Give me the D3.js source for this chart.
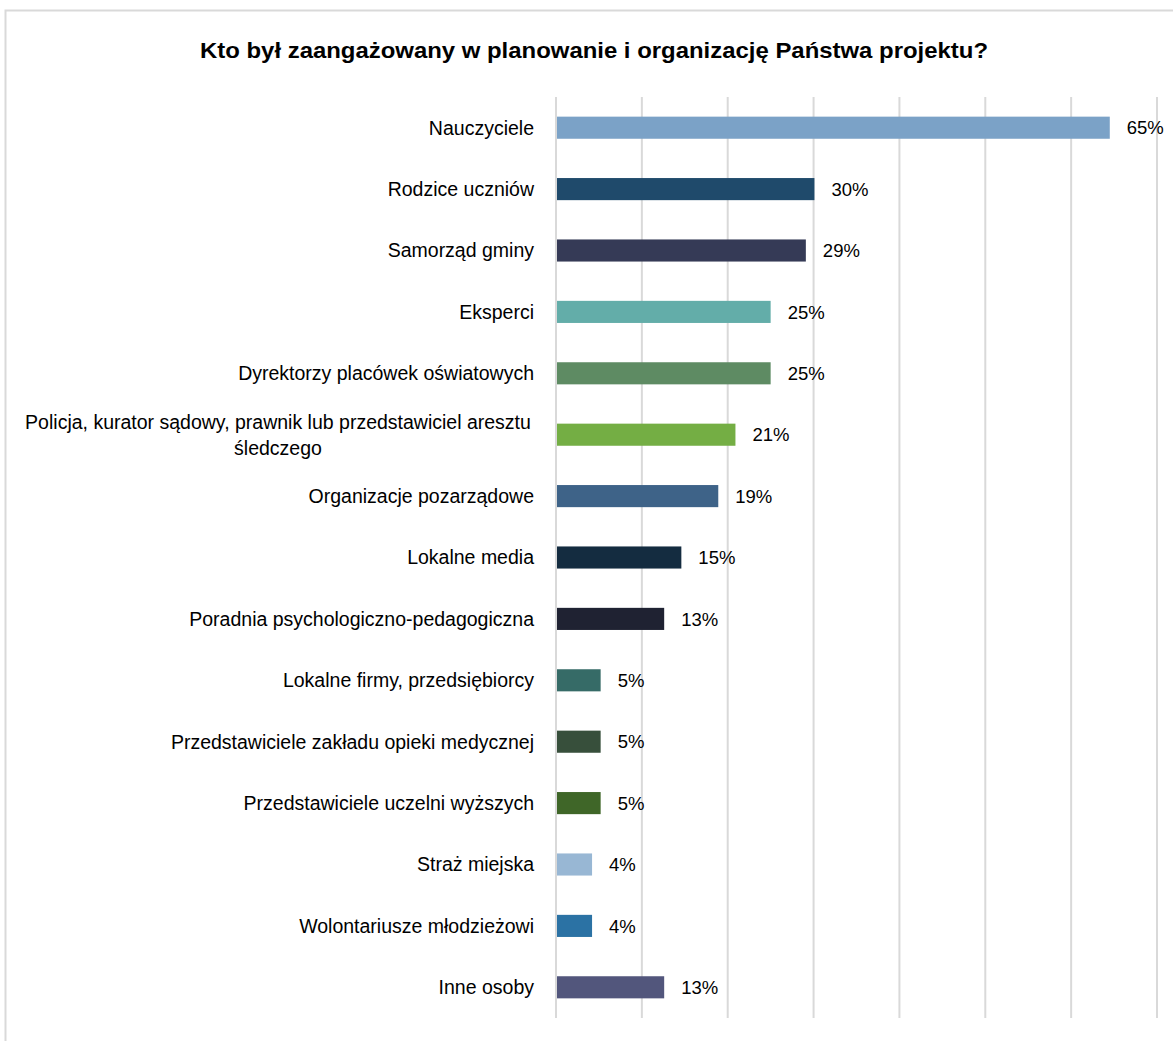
<!DOCTYPE html>
<html><head><meta charset="utf-8">
<script src="https://cdn.jsdelivr.net/npm/d3@7"></script>
<style>body{margin:0;background:#fff}svg{display:block}text{font-family:"Liberation Sans",Arial,sans-serif}</style>
</head><body>
<div id="chart"></div>
<script>
const title = "Kto był zaangażowany w planowanie i organizację Państwa projektu?";
const categories = [
  "Nauczyciele",
  "Rodzice uczniów",
  "Samorząd gminy",
  "Eksperci",
  "Dyrektorzy placówek oświatowych",
  "Policja, kurator sądowy, prawnik lub przedstawiciel aresztu\nśledczego",
  "Organizacje pozarządowe",
  "Lokalne media",
  "Poradnia psychologiczno-pedagogiczna",
  "Lokalne firmy, przedsiębiorcy",
  "Przedstawiciele zakładu opieki medycznej",
  "Przedstawiciele uczelni wyższych",
  "Straż miejska",
  "Wolontariusze młodzieżowi",
  "Inne osoby"
];
const values = [64.5, 30.1, 29.1, 25.0, 25.0, 20.9, 18.9, 14.6, 12.6, 5.2, 5.2, 5.2, 4.2, 4.2, 12.6];
const valueLabels = ["65%","30%","29%","25%","25%","21%","19%","15%","13%","5%","5%","5%","4%","4%","13%"];
const colors = ["#7ba2c7","#1f4a6b","#353a56","#63ada9","#5e8b63","#74ae44","#3e6388","#142c40","#1f2232","#366b67","#374f3b","#3f6628","#98b7d4","#2b72a4","#52567c"];
const xTicks = [0,10,20,30,40,50,60,70];

const W = 1173, H = 1041;
const svg = d3.select("#chart").append("svg").attr("width", W).attr("height", H);

svg.append("rect").attr("x",5.5).attr("y",10.5).attr("width",1200).attr("height",1100)
  .attr("fill","none").attr("stroke","#d9d9d9").attr("stroke-width",2);

svg.append("text").attr("x",200).attr("y",58)
  .attr("font-size",22).attr("font-weight","bold").attr("fill","#000")
  .attr("textLength",788).attr("lengthAdjust","spacingAndGlyphs").text(title);

const x = d3.scaleLinear().domain([0,70]).range([556,1157]);
const y = d3.scaleBand().domain(categories).range([97,1018]).paddingInner(0.64).paddingOuter(0.32);

// gridlines
svg.append("g").selectAll("line").data(xTicks).join("line")
  .attr("x1",d=>x(d)).attr("x2",d=>x(d)).attr("y1",97).attr("y2",1018)
  .attr("stroke","#d9d9d9").attr("stroke-width",2);

// bars
svg.append("g").selectAll("rect").data(categories).join("rect")
  .attr("x",x(0)+1).attr("y",d=>y(d)).attr("height",y.bandwidth())
  .attr("width",(d,i)=>x(values[i])-x(0)-1).attr("fill",(d,i)=>colors[i]);

// value labels
svg.append("g").selectAll("text").data(categories).join("text")
  .attr("x",(d,i)=>x(values[i])+17).attr("y",d=>y(d)+y.bandwidth()/2)
  .attr("dy","0.36em").attr("font-size",18.5).attr("fill","#000")
  .text((d,i)=>valueLabels[i]);

// category labels
const lab = svg.append("g").selectAll("text").data(categories).join("text")
  .attr("font-size",19.5).attr("fill","#000");
lab.each(function(d){
  const lines = d.split("\n");
  const t = d3.select(this);
  const cy = y(d)+y.bandwidth()/2;
  if(lines.length===1){
    t.attr("text-anchor","end").append("tspan").attr("x",534).attr("y",cy).attr("dy","0.35em").text(lines[0]);
  } else {
    t.attr("text-anchor","middle");
    lines.forEach((l,k)=>{
      t.append("tspan").attr("x",278).attr("y",cy+(k-(lines.length-1)/2)*26).attr("dy","0.35em").text(l);
    });
  }
});
</script>
</body></html>
